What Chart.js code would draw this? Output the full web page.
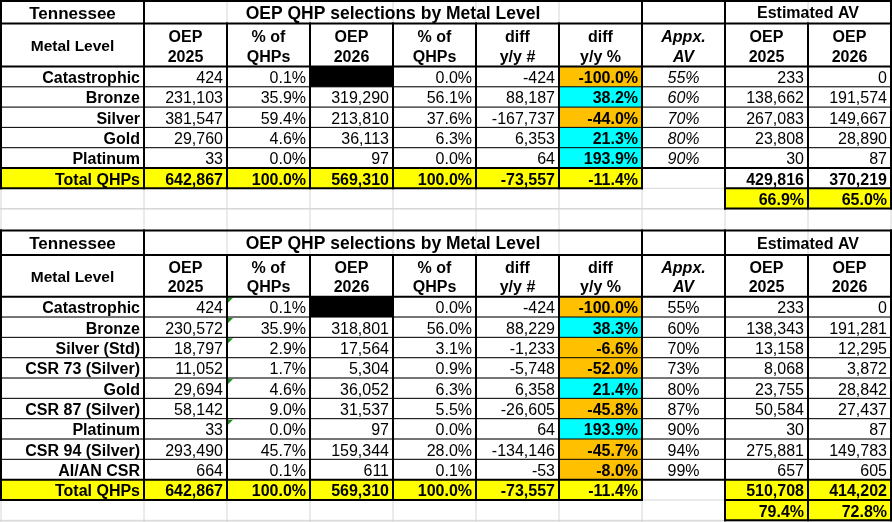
<!DOCTYPE html>
<html><head><meta charset="utf-8">
<script src="https://cdn.jsdelivr.net/npm/chart.js@4.4.1/dist/chart.umd.min.js"></script>
<style>html,body{margin:0;padding:0;background:#fff;}canvas{display:block}</style>
</head><body>
<canvas id="c" width="892" height="522"></canvas>
<script>
// ---------- DATA ----------
const stateName = 'Tennessee';
const tableTitle = 'OEP QHP selections by Metal Level';
const avTitle = 'Estimated AV';
const headerLabels = [['Metal Level'],['OEP','2025'],['% of','QHPs'],['OEP','2026'],['% of','QHPs'],['diff','y/y #'],['diff','y/y %'],['Appx.','AV'],['OEP','2025'],['OEP','2026']];
const totalLabel = 'Total QHPs';

// Table 1
const t1Levels = ['Catastrophic','Bronze','Silver','Gold','Platinum'];
const t1Oep2025 = [424, 231103, 381547, 29760, 33];
const t1Pct2025 = [0.1, 35.9, 59.4, 4.6, 0.0];
const t1Oep2026 = [null, 319290, 213810, 36113, 97];
const t1Pct2026 = [0.0, 56.1, 37.6, 6.3, 0.0];
const t1DiffNum = [-424, 88187, -167737, 6353, 64];
const t1DiffPct = [-100.0, 38.2, -44.0, 21.3, 193.9];
const t1AppxAV = [55, 60, 70, 80, 90];
const t1Est2025 = [233, 138662, 267083, 23808, 30];
const t1Est2026 = [0, 191574, 149667, 28890, 87];
const t1Totals = [642867, 100.0, 569310, 100.0, -73557, -11.4];
const t1EstTotals = [429816, 370219];
const t1EstPct = [66.9, 65.0];

// Table 2
const t2Levels = ['Catastrophic','Bronze','Silver (Std)','CSR 73 (Silver)','Gold','CSR 87 (Silver)','Platinum','CSR 94 (Silver)','AI/AN CSR'];
const t2Oep2025 = [424, 230572, 18797, 11052, 29694, 58142, 33, 293490, 664];
const t2Pct2025 = [0.1, 35.9, 2.9, 1.7, 4.6, 9.0, 0.0, 45.7, 0.1];
const t2Oep2026 = [null, 318801, 17564, 5304, 36052, 31537, 97, 159344, 611];
const t2Pct2026 = [0.0, 56.0, 3.1, 0.9, 6.3, 5.5, 0.0, 28.0, 0.1];
const t2DiffNum = [-424, 88229, -1233, -5748, 6358, -26605, 64, -134146, -53];
const t2DiffPct = [-100.0, 38.3, -6.6, -52.0, 21.4, -45.8, 193.9, -45.7, -8.0];
const t2AppxAV = [55, 60, 70, 73, 80, 87, 90, 94, 99];
const t2Est2025 = [233, 138343, 13158, 8068, 23755, 50584, 30, 275881, 657];
const t2Est2026 = [0, 191281, 12295, 3872, 28842, 27437, 87, 149783, 605];
const t2Totals = [642867, 100.0, 569310, 100.0, -73557, -11.4];
const t2EstTotals = [510708, 414202];
const t2EstPct = [79.4, 72.8];
const t2FlaggedRows = [0, 1, 2, 4, 6];

// ---------- LAYOUT / STYLE ----------
const colX = [1, 144, 227, 310, 393, 476, 559, 642, 725, 808, 891];
const FONT = '"Liberation Sans", Arial, sans-serif';
const C_ORANGE = '#FFC000', C_CYAN = '#00FFFF', C_YELLOW = '#FFFF00', C_GRID = '#d6d6d6';

const tables = [
  { top: 1, titleBot: 23.5, headBot: 66.5, rowH: 20.3,
    levels: t1Levels, cols: [t1Oep2025, t1Pct2025, t1Oep2026, t1Pct2026, t1DiffNum, t1DiffPct, t1AppxAV, t1Est2025, t1Est2026],
    totals: t1Totals, estTotals: t1EstTotals, estPct: t1EstPct, avItalic: true, estTotalYellow: false, flagged: [] },
  { top: 230.5, titleBot: 255, headBot: 296.7, rowH: 20.33,
    levels: t2Levels, cols: [t2Oep2025, t2Pct2025, t2Oep2026, t2Pct2026, t2DiffNum, t2DiffPct, t2AppxAV, t2Est2025, t2Est2026],
    totals: t2Totals, estTotals: t2EstTotals, estPct: t2EstPct, avItalic: false, estTotalYellow: true, flagged: t2FlaggedRows }
];
const gridRowsExtra = [209, 230.5, 521];

const fmtInt = v => v.toLocaleString('en-US');
const fmtPct = v => v.toFixed(1) + '%';

const tablePlugin = {
  id: 'tablePlugin',
  afterDraw(chart) {
    const ctx = chart.ctx;
    const X = v => chart.scales.x.getPixelForValue(v);
    const Y = v => chart.scales.y.getPixelForValue(v);
    const fill = (x0, y0, x1, y1, c) => { ctx.fillStyle = c; ctx.fillRect(X(x0), Y(y0), X(x1) - X(x0), Y(y1) - Y(y0)); };
    const hLine = (x0, x1, y, w, c) => { ctx.strokeStyle = c || '#000'; ctx.lineWidth = w; ctx.beginPath(); ctx.moveTo(X(x0) - (c ? 0 : 1), Y(y)); ctx.lineTo(X(x1) + (c ? 0 : 1), Y(y)); ctx.stroke(); };
    const vLine = (x, y0, y1, w, c) => { ctx.strokeStyle = c || '#000'; ctx.lineWidth = w; ctx.beginPath(); ctx.moveTo(X(x), Y(y0)); ctx.lineTo(X(x), Y(y1)); ctx.stroke(); };
    const text = (s, x, y, align, font) => { ctx.font = font; ctx.fillStyle = '#000'; ctx.textAlign = align; ctx.textBaseline = 'alphabetic'; ctx.fillText(s, X(x), Y(y)); };

    ctx.save();
    // background grid (Excel gridlines)
    const allRows = [];
    tables.forEach(t => {
      allRows.push(t.top, t.titleBot, t.headBot);
      const n = t.levels.length;
      for (let k = 1; k <= n + 2; k++) allRows.push(t.headBot + k * t.rowH);
    });
    gridRowsExtra.forEach(r => allRows.push(r));
    colX.forEach(x => vLine(x, 0, 522, 1, C_GRID));
    allRows.forEach(y => hLine(0, 892, y, 1, C_GRID));

    tables.forEach(t => {
      const n = t.levels.length;
      const rowB = k => t.headBot + k * t.rowH; // bottom of data row k-1
      const totTop = rowB(n), totBot = rowB(n + 1), pctBot = rowB(n + 2);

      // fills
      for (let i = 0; i < n; i++) {
        const yT = rowB(i), yB = rowB(i + 1);
        if (t.cols[2][i] === null) fill(colX[3], yT, colX[4], yB, '#000');
        const d = t.cols[5][i];
        fill(colX[6], yT, colX[7], yB, d < 0 ? C_ORANGE : C_CYAN);
      }
      fill(colX[0], totTop, colX[7], totBot, C_YELLOW);
      if (t.estTotalYellow) fill(colX[8], totTop, colX[10], totBot, C_YELLOW);
      else fill(colX[8], totTop, colX[10], totBot, '#fff');
      fill(colX[8], totBot, colX[10], pctBot, C_YELLOW);
      fill(colX[7], t.top, colX[8], t.titleBot, '#fff');

      // green error triangles
      ctx.fillStyle = '#1f8a1f';
      t.flagged.forEach(i => {
        const x = X(colX[2]) + 1, y = Y(rowB(i)) + 1;
        ctx.beginPath(); ctx.moveTo(x, y); ctx.lineTo(x + 5, y); ctx.lineTo(x, y + 5); ctx.closePath(); ctx.fill();
      });

      // borders
      hLine(colX[0], colX[10], t.top, 2);
      hLine(colX[0], colX[10], t.titleBot, 2);
      hLine(colX[0], colX[10], t.headBot, 2);
      for (let k = 1; k < n; k++) hLine(colX[0], colX[10], rowB(k), 1);
      hLine(colX[0], colX[10], totTop, 2);
      hLine(colX[0], colX[7], totBot, 2);
      hLine(colX[8], colX[10], totBot, 2);
      hLine(colX[8], colX[10], pctBot, 2);
      colX.forEach((x, j) => {
        const mergedInTitle = (j >= 2 && j <= 6) || j === 9;
        const y0 = mergedInTitle ? t.titleBot : t.top;
        const y1 = j >= 8 ? pctBot : totBot;
        vLine(x, y0 - 1, y1 + 1, 2);
      });

      // title row
      const tMid = (t.top + t.titleBot) / 2;
      text(stateName, (colX[0] + colX[1]) / 2, tMid + 6.5, 'center', 'bold 17px ' + FONT);
      text(tableTitle, (colX[1] + colX[7]) / 2, tMid + 6.5, 'center', 'bold 17.5px ' + FONT);
      text(avTitle, (colX[8] + colX[10]) / 2, tMid + 6, 'center', 'bold 16px ' + FONT);

      // header row
      const hMid = (t.titleBot + t.headBot) / 2;
      headerLabels.forEach((lines, j) => {
        const cx = (colX[j] + colX[j + 1]) / 2;
        const f = (j === 7 ? 'italic bold ' : 'bold ') + (j === 0 ? '15.5px ' : '16px ') + FONT;
        if (lines.length === 1) text(lines[0], cx, hMid + 6, 'center', f);
        else { text(lines[0], cx, hMid - 3, 'center', f); text(lines[1], cx, hMid + 16.5, 'center', f); }
      });

      // data rows
      const numF = '16px ' + FONT, boldF = 'bold 16px ' + FONT;
      for (let i = 0; i < n; i++) {
        const yb = rowB(i + 1) - 3.8;
        text(t.levels[i], colX[1] - 4, yb, 'right', boldF);
        const vals = t.cols;
        const cells = [
          fmtInt(vals[0][i]), fmtPct(vals[1][i]),
          vals[2][i] === null ? '' : fmtInt(vals[2][i]), fmtPct(vals[3][i]),
          fmtInt(vals[4][i]), fmtPct(vals[5][i])
        ];
        cells.forEach((s, j) => text(s, colX[j + 2] - 4, yb, 'right', j === 5 ? boldF : numF));
        text(vals[6][i] + '%', (colX[7] + colX[8]) / 2, yb, 'center', (t.avItalic ? 'italic ' : '') + numF);
        text(fmtInt(vals[7][i]), colX[9] - 4, yb, 'right', numF);
        text(fmtInt(vals[8][i]), colX[10] - 4, yb, 'right', numF);
      }
      // total row
      const ybT = totBot - 3.8;
      text(totalLabel, colX[1] - 4, ybT, 'right', boldF);
      const tc = [fmtInt(t.totals[0]), fmtPct(t.totals[1]), fmtInt(t.totals[2]), fmtPct(t.totals[3]), fmtInt(t.totals[4]), fmtPct(t.totals[5])];
      tc.forEach((s, j) => text(s, colX[j + 2] - 4, ybT, 'right', boldF));
      text(fmtInt(t.estTotals[0]), colX[9] - 4, ybT, 'right', boldF);
      text(fmtInt(t.estTotals[1]), colX[10] - 4, ybT, 'right', boldF);
      // AV percentage row
      const ybP = pctBot - 3.8;
      text(fmtPct(t.estPct[0]), colX[9] - 4, ybP, 'right', boldF);
      text(fmtPct(t.estPct[1]), colX[10] - 4, ybP, 'right', boldF);
    });
    ctx.restore();
  }
};

new Chart(document.getElementById('c'), {
  type: 'scatter',
  data: { datasets: [] },
  options: {
    responsive: false,
    animation: false,
    devicePixelRatio: 1,
    layout: { padding: 0 },
    plugins: { legend: { display: false }, tooltip: { enabled: false }, title: { display: false } },
    scales: {
      x: { type: 'linear', min: 0, max: 892, display: false },
      y: { type: 'linear', min: 0, max: 522, reverse: true, display: false }
    }
  },
  plugins: [tablePlugin]
});
</script>
</body></html>
